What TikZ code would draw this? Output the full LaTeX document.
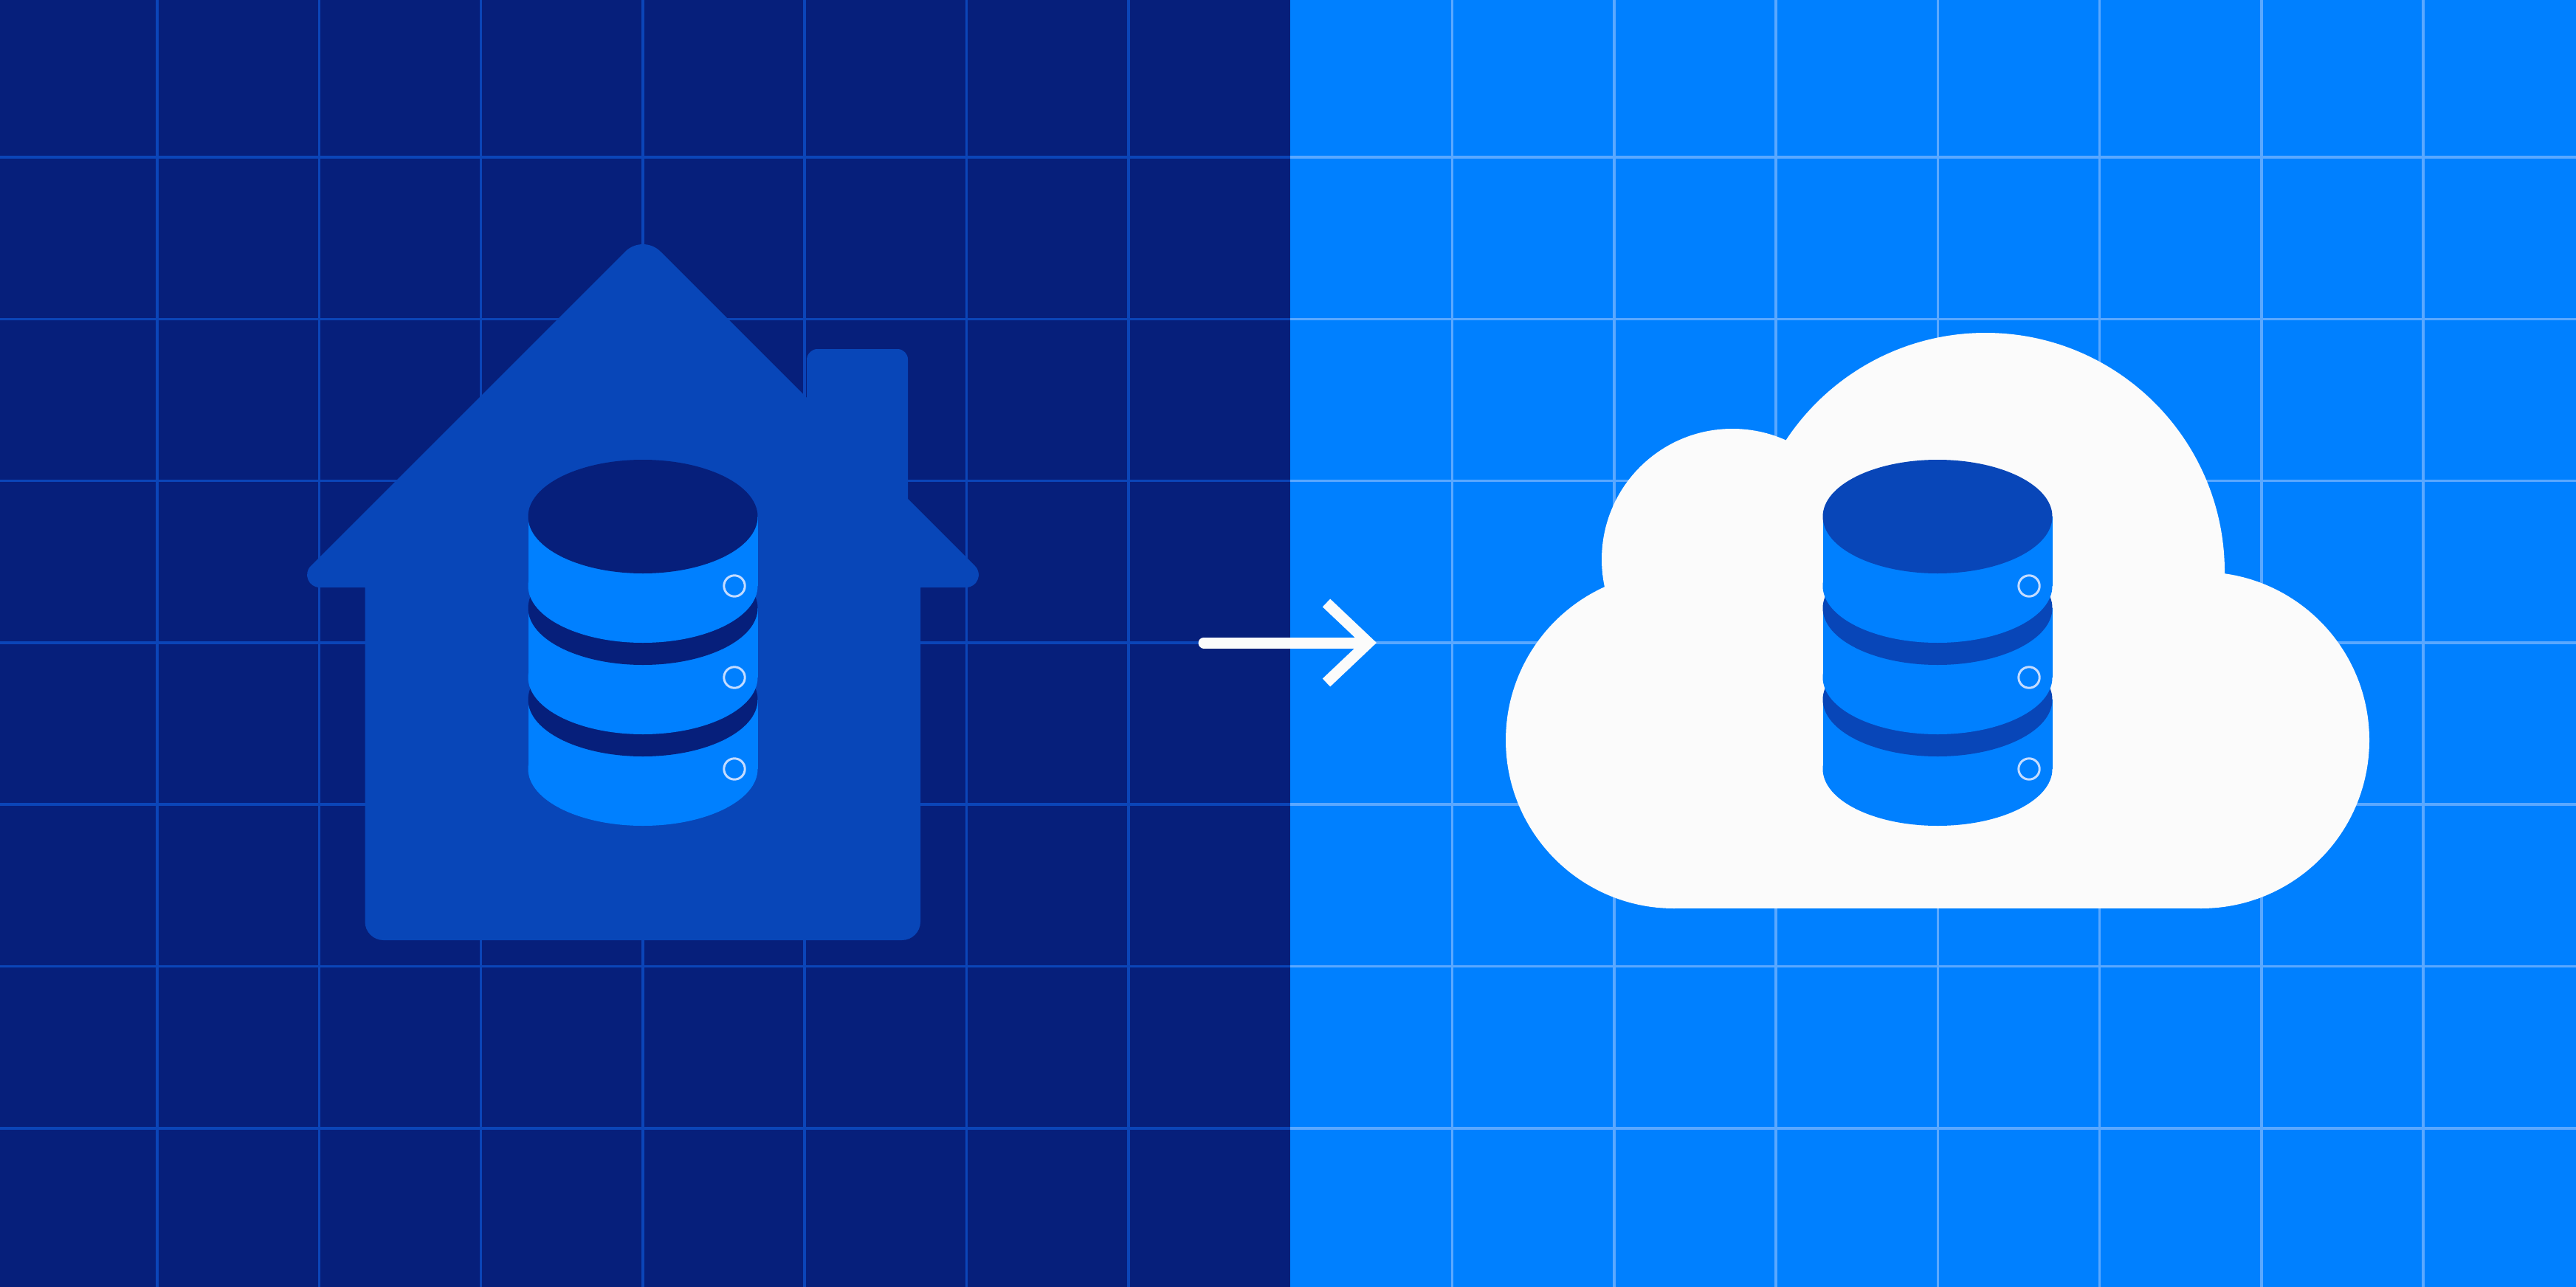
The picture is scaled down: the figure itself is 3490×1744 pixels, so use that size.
\documentclass[tikz,border=0pt]{standalone}
\definecolor{navybg}{HTML}{061F7B}
\definecolor{midblue}{HTML}{0846B8}
\definecolor{brightblue}{HTML}{0080FF}
\definecolor{gridleft}{HTML}{0B45B8}
\definecolor{gridright}{HTML}{5AA8FF}
\definecolor{cloudwhite}{HTML}{FBFBFB}
\definecolor{ledring}{HTML}{C4DCFF}
\newcommand{\drawdb}[2]{%
  \begin{scope}[xshift=#1pt]
    \foreach \c/\d in {1042/948,918/824,794/700}{
      \fill[brightblue] (-155.5,\d) rectangle (155.5,\c);
      \fill[brightblue] (0,\c) ellipse [x radius=155.5, y radius=77];
      \fill[#2] (0,\d) ellipse [x radius=155.5, y radius=77];
      \draw[ledring, line width=3pt] (124,\c) circle [radius=14.2];
    }
  \end{scope}}
\tikzset{
  gridl/.style={gridleft, line width=3.6pt},
  gridr/.style={gridright, line width=3.6pt},
  arrowline/.style={cloudwhite, line width=15pt}
}
\begin{document}
\begin{tikzpicture}[x=1pt,y=-1pt]
\useasboundingbox (0,0) rectangle (3490,1744);
\clip (0,0) rectangle (3490,1744);
% backgrounds
\fill[navybg] (0,0) rectangle (1748,1744);
\fill[brightblue] (1748,0) rectangle (3490,1744);
% grid
\foreach \k in {1,...,7}{
  \draw[gridl] ({213+219.3*(\k-1)},0) -- ({213+219.3*(\k-1)},1744);
}
\foreach \k in {9,...,15}{
  \draw[gridr] ({213+219.3*(\k-1)},0) -- ({213+219.3*(\k-1)},1744);
}
\foreach \k in {1,...,7}{
  \draw[gridl] (0,{213+219.3*(\k-1)}) -- (1748,{213+219.3*(\k-1)});
  \draw[gridr] (1748,{213+219.3*(\k-1)}) -- (3490,{213+219.3*(\k-1)});
}
% house
\fill[midblue] (847,341)
  .. controls (860.3,327.7) and (881.7,327.7) .. (895,341)
  -- (1093,539) -- (1093,487)
  .. controls (1093,479.3) and (1100.7,473) .. (1107,473)
  -- (1216,473)
  .. controls (1223.7,473) and (1230,479.3) .. (1230,487)
  -- (1230,676) -- (1321,767)
  .. controls (1331.6,777.6) and (1324,796) .. (1309,796)
  -- (1247,796) -- (1247,1249)
  .. controls (1247,1262.8) and (1235.8,1274) .. (1222,1274)
  -- (519.5,1274)
  .. controls (505.7,1274) and (494.5,1262.8) .. (494.5,1249)
  -- (494.5,796) -- (433,796)
  .. controls (418,796) and (410.4,777.6) .. (421,767)
  -- cycle;
\drawdb{871}{navybg}
% cloud
\fill[cloudwhite] (2347,758) circle [radius=177];
\fill[cloudwhite] (2690,775) circle [radius=324];
\fill[cloudwhite] (2268,1003) circle [radius=228];
\fill[cloudwhite] (2982,1003) circle [radius=228];
\fill[cloudwhite] (2268,775) rectangle (2982,1231);
\drawdb{2625}{midblue}
% arrow
\coordinate (arrowstart) at (1631,871);
\coordinate (arrowtip) at (1854,871);
\coordinate (headup) at (1797,817);
\coordinate (headdown) at (1797,925);
\draw[arrowline, line cap=round] (arrowstart) -- (1840,871);
\draw[arrowline, miter limit=10] (headup) -- (arrowtip) -- (headdown);
\end{tikzpicture}
\end{document}
